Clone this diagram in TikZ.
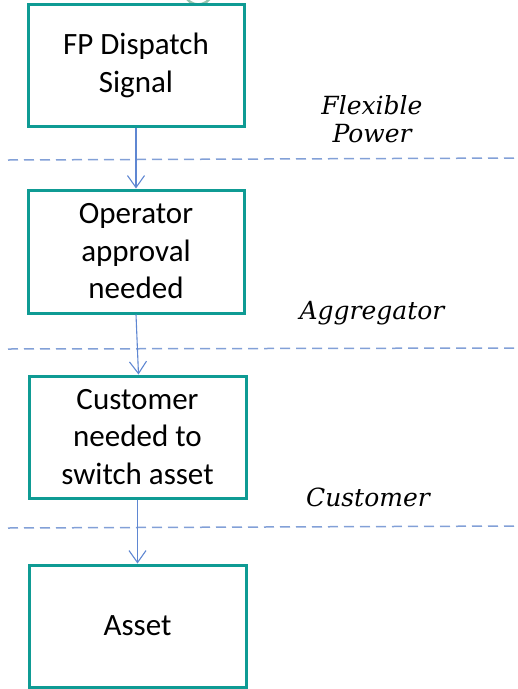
\documentclass[tikz,border=0pt]{standalone}
\usepackage{fontspec}
\setmainfont{Carlito}
\newfontfamily\handfont{DejaVu Serif}
\usetikzlibrary{arrows.meta}
\definecolor{boxteal}{RGB}{15,155,148}
\definecolor{connblue}{RGB}{95,135,210}
\definecolor{dashblue}{RGB}{130,160,215}
\definecolor{arcgreen}{RGB}{150,195,175}
\begin{document}
\begin{tikzpicture}[x=1pt,y=-1pt,
  stepbox/.style={draw=boxteal,line width=3pt,fill=white,minimum width=216pt,minimum height=122pt,
    align=center,font=\fontsize{31}{37.5}\selectfont,inner sep=0pt},
  conn/.style={draw=connblue,line width=1.1pt,-{Straight Barb[length=12pt,width=17pt,line width=1.1pt]}},
  sep/.style={draw=dashblue,line width=1.5pt,dash pattern=on 10pt off 6pt},
  layer/.style={font=\handfont\itshape\fontsize{25}{28}\selectfont,align=center,inner sep=0pt}]
\useasboundingbox (0,0) rectangle (518,689);
\begin{scope}
\clip (0,0) rectangle (518,689);
\draw[arcgreen,line width=2.5pt] (184,-6) .. controls (190,8) and (206,8) .. (213,-6);
\end{scope}
\coordinate (d1a) at (8,160); \coordinate (d1b) at (520,158);
\coordinate (d2a) at (8,349); \coordinate (d2b) at (520,348);
\coordinate (d3a) at (8,528); \coordinate (d3b) at (520,526);
\draw[sep] (d1a) -- (d1b);
\draw[sep] (d2a) -- (d2b);
\draw[sep] (d3a) -- (d3b);
\node[stepbox] (b1) at (136,65.5) {FP Dispatch\\Signal};
\node[stepbox,minimum height=123pt] (b2) at (136,251.5) {Operator\\approval\\needed};
\node[stepbox,minimum width=217pt] (b3) at (137.5,437) {Customer\\needed to\\switch asset};
\node[stepbox,minimum width=217pt] (b4) at (137.5,626) {Asset};
\draw[conn] (b1.south) -- (b2.north);
\draw[conn] (b2.south) -- ([xshift=1pt]b3.north);
\draw[conn] (b3.south) -- (b4.north);
\node[layer] (l1) at (372,119) {Flexible\\Power};
\node[layer] (l2) at (372,313) {Aggregator};
\node[layer] (l3) at (368,497) {Customer};
\end{tikzpicture}
\end{document}
